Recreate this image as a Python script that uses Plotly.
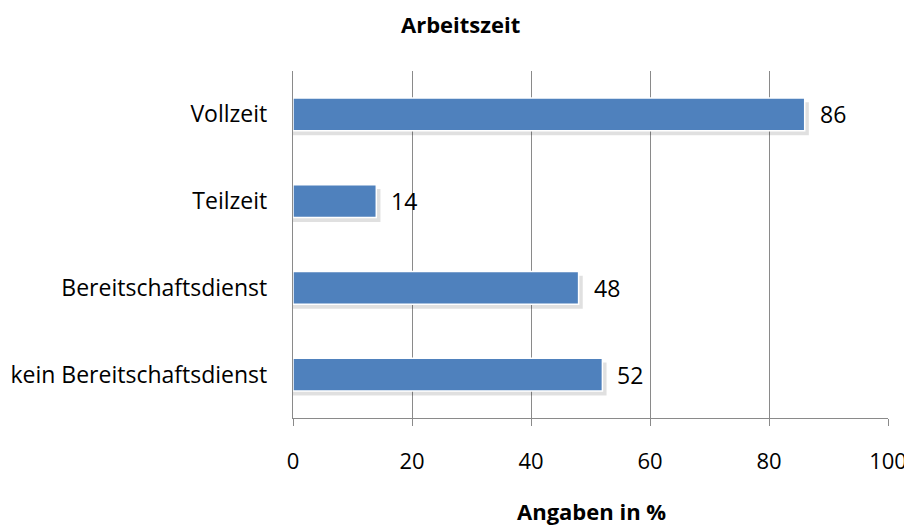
import plotly.graph_objects as go

categories = ["Vollzeit", "Teilzeit", "Bereitschaftsdienst", "kein Bereitschaftsdienst"]
values = [86, 14, 48, 52]
x_ticks = [0, 20, 40, 60, 80, 100]

FONT = "'Open Sans', Lato, sans-serif"
bar_w = 0.38

# page body has an 8px margin, so figure pixel = screen pixel - 8
OFF = 8
W, H = 912 - OFF, 525 - OFF
L, T = 293 - OFF, 71 - OFF
PW, PH = 595, 347
R, B = W - L - PW, H - T - PH

fig = go.Figure()
# soft shadow
fig.add_trace(go.Bar(
    y=categories, x=[v + 0.7 for v in values], orientation="h",
    width=bar_w, offset=-bar_w / 2 + 0.05,
    marker=dict(color="rgba(0,0,0,0.12)", line=dict(width=0)),
    hoverinfo="skip", showlegend=False,
))
fig.add_trace(go.Bar(
    y=categories, x=values, orientation="h",
    width=bar_w, offset=-bar_w / 2,
    marker=dict(color="#4F81BD", line=dict(color="white", width=1.5)),
    showlegend=False,
))
anns = []
for c, v in zip(categories, values):
    anns.append(dict(x=v, y=c, text=str(v), showarrow=False, xanchor="left",
                     xshift=13, font=dict(family=FONT, size=23, color="black")))
anns.append(dict(text="<b>Arbeitszeit</b>", x=(460 - 293) / PW, xref="paper",
                 y=1 + (71 - 24) / PH, yref="paper", yanchor="middle", xanchor="center",
                 showarrow=False, font=dict(family=FONT, size=22, color="black")))
anns.append(dict(text="<b>Angaben in %</b>", x=(591 - 293) / PW, xref="paper",
                 y=-(511 - 418) / PH, yref="paper", yanchor="middle", xanchor="center",
                 showarrow=False, font=dict(family=FONT, size=22, color="black")))

fig.update_layout(
    width=W, height=H, barmode="overlay",
    paper_bgcolor="white", plot_bgcolor="white",
    margin=dict(l=L, r=R, t=T, b=B, autoexpand=False),
    font=dict(family=FONT, size=23, color="black"),
    annotations=anns,
)

fig.update_xaxes(range=[0, 100], tickvals=x_ticks, showgrid=True, gridcolor="#8a8a8a",
                 gridwidth=1.3, showline=True, linecolor="#8a8a8a", linewidth=1.3,
                 ticks="outside", ticklen=7, tickcolor="#8a8a8a", tickwidth=1.3,
                 ticklabelstandoff=16, zeroline=False, tickfont=dict(size=22),
                 automargin=False)
fig.update_yaxes(autorange="reversed", showline=True, linecolor="#8a8a8a", linewidth=1.3,
                 ticks="", ticklabelstandoff=20, showgrid=False, tickfont=dict(size=23),
                 automargin=False)

fig.write_html("out.html")
